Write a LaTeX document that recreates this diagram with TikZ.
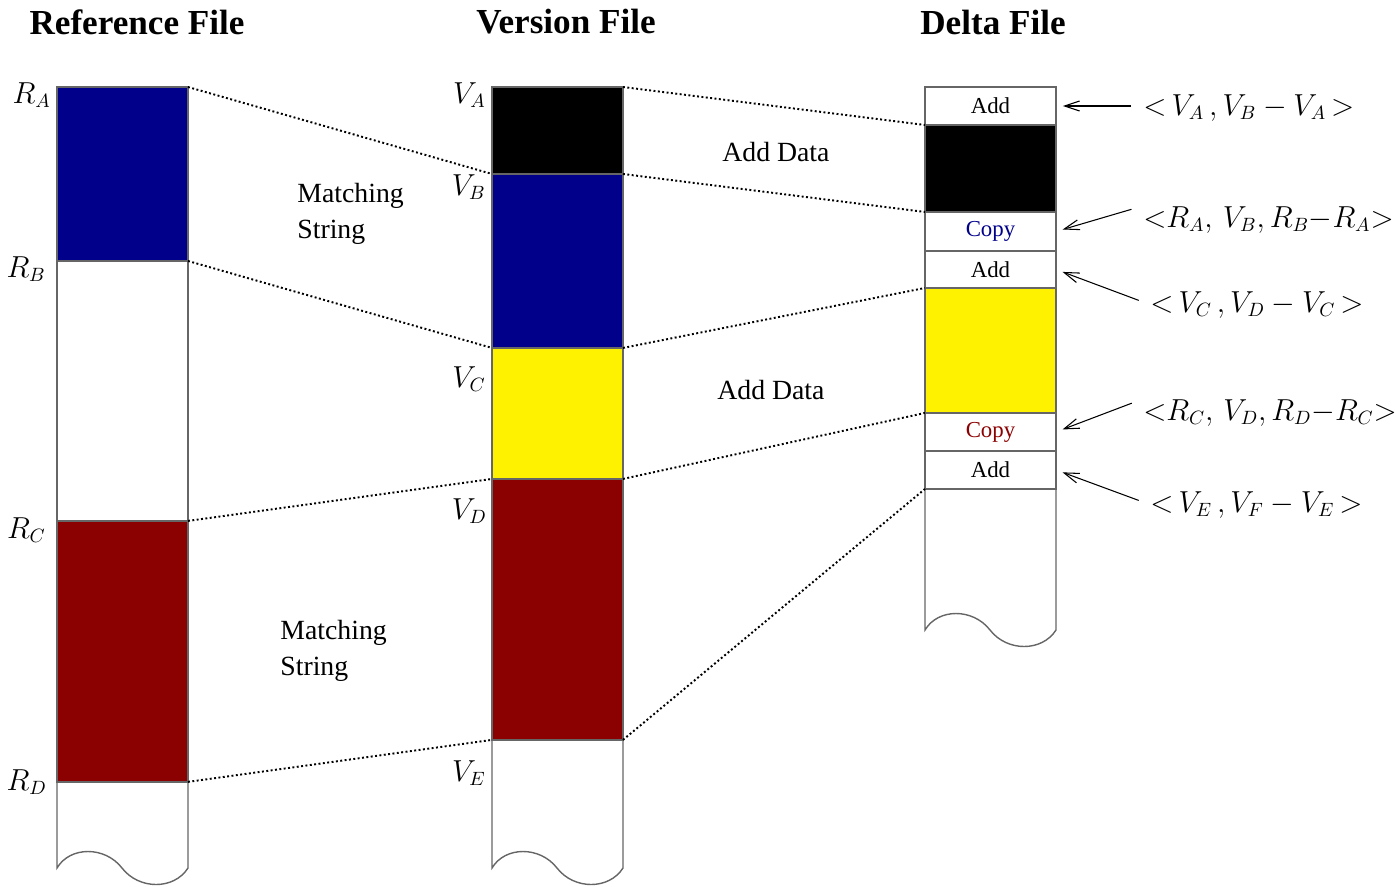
\documentclass[tikz,border=0pt]{standalone}
\usepackage{fontspec}
\setmainfont{Liberation Serif}
\usetikzlibrary{arrows.meta}
\definecolor{fileblue}{RGB}{0,0,139}
\definecolor{filered}{RGB}{139,0,0}
\tikzset{
    block/.style={draw=black!60, line width=0.8pt, anchor=north west, inner sep=0pt, outer sep=0pt,
        minimum width=2.62cm, font=\fontsize{13}{15}\selectfont},
    side/.style={draw=black!60, line width=0.8pt},
    match/.style={dash pattern=on 1.1pt off 1.4pt, line width=1.1pt},
    title/.style={font=\fontsize{20}{24}\selectfont\bfseries},
    lbl/.style={anchor=base east, inner sep=0pt, font=\fontsize{16}{19}\selectfont},
    note/.style={anchor=north west, align=left, inner sep=0pt, font=\fontsize{15.8}{20.5}\selectfont},
    ann/.style={anchor=base west, inner sep=0pt, font=\fontsize{16}{19}\selectfont},
    ptr/.style={-{Straight Barb[length=3mm,width=2mm]}, line width=0.6pt, shorten <=0.24cm, shorten >=0.14cm},
}

\begin{document}
\begin{tikzpicture}[x=0.02cm, y=-0.02cm]
    \useasboundingbox (0,0) rectangle (1395,886);

    \node[title] (tRef) at (137,22) {Reference File};
    \node[title] (tVer) at (566,22) {Version File};
    \node[title] (tDel) at (993,22) {Delta File};

    % reference file
    \node[block, fill=fileblue, minimum height=3.48cm] (rA) at (57,87) {};
    \node[block, minimum height=5.2cm] (rB) at (rA.south west) {};
    \node[block, fill=filered, minimum height=5.22cm] (rC) at (rB.south west) {};

    % version file
    \node[block, fill=black, minimum height=1.74cm] (vA) at (492,87) {};
    \node[block, fill=fileblue, minimum height=3.48cm] (vB) at (vA.south west) {};
    \node[block, fill=yellow, minimum height=2.62cm] (vC) at (vB.south west) {};
    \node[block, fill=filered, minimum height=5.22cm] (vD) at (vC.south west) {};

    % delta file
    \node[block, minimum height=0.76cm] (dA) at (925,87) {Add};
    \node[block, fill=black, minimum height=1.74cm] (dB) at (dA.south west) {};
    \node[block, minimum height=0.78cm, text=fileblue] (dC) at (dB.south west) {Copy};
    \node[block, minimum height=0.74cm] (dD) at (dC.south west) {Add};
    \node[block, fill=yellow, minimum height=2.5cm] (dE) at (dD.south west) {};
    \node[block, minimum height=0.76cm, text=filered] (dF) at (dE.south west) {Copy};
    \node[block, minimum height=0.76cm] (dG) at (dF.south west) {Add};

    % open ends
    \foreach \n/\x/\y in {rC/57/868, vD/492/868, dG/925/630}
        \draw[side] (\n.south west) -- (\x,\y) .. controls (\x+13,\y-22) and (\x+48,\y-22) .. (\x+65,\y)
            .. controls (\x+82,\y+22) and (\x+117,\y+22) .. (\x+131,\y) -- (\n.south east);

    \node[lbl] (lRA) at (51,103) {$R_A$};
    \node[lbl] (lRB) at (46,277) {$R_B$};
    \node[lbl] (lRC) at (46,538) {$R_C$};
    \node[lbl] (lRD) at (47,790) {$R_D$};
    \node[lbl] (lVA) at (486,103) {$V_A$};
    \node[lbl] (lVB) at (486,195) {$V_B$};
    \node[lbl] (lVC) at (486,387) {$V_C$};
    \node[lbl] (lVD) at (487,519) {$V_D$};
    \node[lbl] (lVE) at (486,781) {$V_E$};

    \draw[match] (rA.north east) -- (vB.north west);
    \draw[match] (rB.north east) -- (vC.north west);
    \draw[match] (rC.north east) -- (vD.north west);
    \draw[match] (rC.south east) -- (vD.south west);
    \draw[match] (vA.north east) -- (dB.north west);
    \draw[match] (vB.north east) -- (dC.north west);
    \draw[match] (vC.north east) -- (dE.north west);
    \draw[match] (vD.north east) -- (dF.north west);
    \draw[match] (vD.south east) -- (dG.south west);

    \node[note] (mStr1) at (297,183) {Matching\\String};
    \node[note] (mStr2) at (280,620) {Matching\\String};
    \node[note] (aDat1) at (722,142) {Add Data};
    \node[note] (aDat2) at (717,380) {Add Data};

    \node[ann] (a1) at (1143,115) {${<}\,V_A\,,V_B-V_A\,{>}$};
    \node[ann] (a2) at (1143,227) {${<}R_A,\,V_B,R_B{-}R_A{>}$};
    \node[ann] (a3) at (1150,312) {${<}\,V_C\,,V_D-V_C\,{>}$};
    \node[ann] (a4) at (1143,420) {${<}R_C,\,V_D,R_D{-}R_C{>}$};
    \node[ann] (a5) at (1150,512) {${<}\,V_E\,,V_F-V_E\,{>}$};

    \draw[ptr] (a1.west |- dA.east) -- (dA.east);
    \draw[ptr] (a2.north west) -- (dC.east);
    \draw[ptr] (a3.west) -- (dD.east);
    \draw[ptr] (a4.north west) -- (dF.east);
    \draw[ptr] (a5.west) -- (dG.east);
\end{tikzpicture}
\end{document}
